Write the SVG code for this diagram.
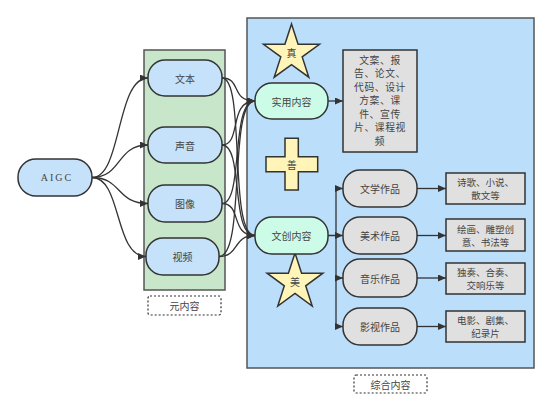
<svg xmlns="http://www.w3.org/2000/svg" width="552" height="412" viewBox="0 0 552 412">
<style>
text{font-family:"Noto Sans CJK SC","Liberation Sans",sans-serif;font-size:10px;fill:#444;text-anchor:middle;dominant-baseline:central}
.meta{fill:#c6e2fa;stroke:#333;stroke-width:1.5}
.mint{fill:#ccfce8;stroke:#333;stroke-width:1.5}
.gray{fill:#e0e0e0;stroke:#333;stroke-width:1.5}
.yel{fill:#fff5b8;stroke:#333;stroke-width:1.5}
.dash{fill:#fff;stroke:#333;stroke-width:1.2;stroke-dasharray:2 2}
.cont{stroke:#555;stroke-width:1.5}
.edge{fill:none;stroke:#333;stroke-width:1.3}
.big{font-size:9.8px;letter-spacing:0.6px}
.small{font-size:9.5px}
</style>
<defs>
<marker id="arr" markerUnits="userSpaceOnUse" markerWidth="8" markerHeight="7" refX="8" refY="3.5" orient="auto">
<path d="M0,0 L8,3.5 L0,7 z" fill="#333"/>
</marker>
</defs>
<rect width="552" height="412" fill="#fff"/>

<g id="container-meta">
<rect class="cont" x="144" y="50" width="81" height="240" fill="#c8e6c9"/>
</g>
<g id="container-all">
<rect class="cont" x="247" y="18" width="287" height="350" fill="#bbdefb"/>
</g>

<g id="connectors">
<path class="edge" marker-end="url(#arr)" d="M92,177.5 C122,177.5 116,78 148,78"/>
<path class="edge" marker-end="url(#arr)" d="M92,177.5 C122,177.5 116,145 148,145"/>
<path class="edge" marker-end="url(#arr)" d="M92,177.5 C122,177.5 116,203.5 148,203.5"/>
<path class="edge" marker-end="url(#arr)" d="M92,177.5 C122,177.5 114,256.5 146,256.5"/>

<path class="edge" marker-end="url(#arr)" d="M222,78 C242,78 230,101 255,101"/>
<path class="edge" marker-end="url(#arr)" d="M222,78 C246,78 228,235.5 255,235.5"/>
<path class="edge" marker-end="url(#arr)" d="M222,145 C242,145 228,101 255,101"/>
<path class="edge" marker-end="url(#arr)" d="M222,145 C244,145 230,235.5 255,235.5"/>
<path class="edge" marker-end="url(#arr)" d="M222,203.5 C244,203.5 230,101 255,101"/>
<path class="edge" marker-end="url(#arr)" d="M222,203.5 C242,203.5 230,235.5 255,235.5"/>
<path class="edge" marker-end="url(#arr)" d="M219,256.5 C246,256.5 228,101 255,101"/>
<path class="edge" marker-end="url(#arr)" d="M219,256.5 C240,256.5 232,235.5 255,235.5"/>

<path class="edge" marker-end="url(#arr)" d="M328,101 L343,101"/>

<path class="edge" d="M328,235.5 L336,235.5 M336,188.5 L336,326.5"/>
<path class="edge" marker-end="url(#arr)" d="M336,188.5 L343,188.5"/>
<path class="edge" marker-end="url(#arr)" d="M336,235.5 L343,235.5"/>
<path class="edge" marker-end="url(#arr)" d="M336,278 L343,278"/>
<path class="edge" marker-end="url(#arr)" d="M336,326.5 L343,326.5"/>

<path class="edge" marker-end="url(#arr)" d="M417,188.5 L446,188.5"/>
<path class="edge" marker-end="url(#arr)" d="M417,235.5 L446,235.5"/>
<path class="edge" marker-end="url(#arr)" d="M417,278 L446,278"/>
<path class="edge" marker-end="url(#arr)" d="M417,326.5 L446,326.5"/>
</g>

<g id="aigc">
<rect class="meta" x="18" y="159" width="74" height="37" rx="18"/>
<text x="57" y="177.5" style="font-family:'Liberation Serif',serif;letter-spacing:2px">AIGC</text>
</g>
<g id="text-node">
<rect class="meta" x="148" y="60" width="74" height="36" rx="17"/>
<text x="185" y="78">文本</text>
</g>
<g id="audio-node">
<rect class="meta" x="148" y="127" width="74" height="36" rx="17"/>
<text x="185" y="145">声音</text>
</g>
<g id="image-node">
<rect class="meta" x="148" y="185" width="74" height="37" rx="17"/>
<text x="185" y="203.5">图像</text>
</g>
<g id="video-node">
<rect class="meta" x="146" y="238" width="73" height="37" rx="17"/>
<text x="182.5" y="256.5">视频</text>
</g>
<g id="meta-label">
<rect class="dash" x="148" y="296" width="73" height="19" rx="2"/>
<text x="184.5" y="305.5">元内容</text>
</g>
<g id="all-label">
<rect class="dash" x="354" y="375" width="73" height="18" rx="2"/>
<text x="390.5" y="384">综合内容</text>
</g>

<g id="star-zhen">
<path class="yel" d="M291.5,24 L298.1,44.3 L319.5,44.3 L302.2,56.9 L308.8,77.2 L291.5,64.6 L274.2,77.2 L280.8,56.9 L263.5,44.3 L284.9,44.3 Z"/>
<text x="291.5" y="52">真</text>
</g>
<g id="cross-shan">
<path class="yel" d="M285,138.3 L298.3,138.3 L298.3,156.7 L317.7,156.7 L317.7,171.7 L298.3,171.7 L298.3,190 L285,190 L285,171.7 L266,171.7 L266,156.7 L285,156.7 Z"/>
<text x="291.7" y="164">善</text>
</g>
<g id="star-mei">
<path class="yel" d="M295,253 L301.6,273.2 L322.9,273.2 L305.7,285.8 L312.2,306 L295,293.5 L277.8,306 L284.3,285.8 L267.1,273.2 L288.4,273.2 Z"/>
<text x="295" y="281">美</text>
</g>

<g id="practical">
<rect class="mint" x="255" y="83" width="73" height="36" rx="17"/>
<text x="291.5" y="101">实用内容</text>
</g>
<g id="creative">
<rect class="mint" x="255" y="217" width="73" height="37" rx="17"/>
<text x="291.5" y="235.5">文创内容</text>
</g>

<g id="practical-list">
<rect class="gray" x="343" y="50" width="74" height="102"/>
<text class="big"><tspan x="380" y="59.5">文案、报</tspan><tspan x="380" y="73">告、论文、</tspan><tspan x="380" y="86.5">代码、设计</tspan><tspan x="380" y="100">方案、课</tspan><tspan x="380" y="113.5">件、宣传</tspan><tspan x="380" y="127">片、课程视</tspan><tspan x="380" y="140.5">频</tspan></text>
</g>

<g id="literature">
<rect class="gray" x="343" y="170" width="74" height="37" rx="17"/>
<text x="380" y="188.5">文学作品</text>
</g>
<g id="art">
<rect class="gray" x="343" y="217" width="74" height="37" rx="17"/>
<text x="380" y="235.5">美术作品</text>
</g>
<g id="music">
<rect class="gray" x="343" y="259" width="74" height="38" rx="17"/>
<text x="380" y="278">音乐作品</text>
</g>
<g id="film">
<rect class="gray" x="343" y="308" width="74" height="37" rx="17"/>
<text x="380" y="326.5">影视作品</text>
</g>

<g id="literature-list">
<rect class="gray" x="446" y="173" width="79" height="31"/>
<text class="small"><tspan x="485.5" y="182">诗歌、小说、</tspan><tspan x="485.5" y="195">散文等</tspan></text>
</g>
<g id="art-list">
<rect class="gray" x="446" y="219" width="79" height="32"/>
<text class="small"><tspan x="485.5" y="228.5">绘画、雕塑创</tspan><tspan x="485.5" y="241.5">意、书法等</tspan></text>
</g>
<g id="music-list">
<rect class="gray" x="446" y="263" width="79" height="31"/>
<text class="small"><tspan x="485.5" y="272">独奏、合奏、</tspan><tspan x="485.5" y="285">交响乐等</tspan></text>
</g>
<g id="film-list">
<rect class="gray" x="446" y="311" width="79" height="31"/>
<text class="small"><tspan x="485.5" y="320">电影、剧集、</tspan><tspan x="485.5" y="333">纪录片</tspan></text>
</g>
</svg>
